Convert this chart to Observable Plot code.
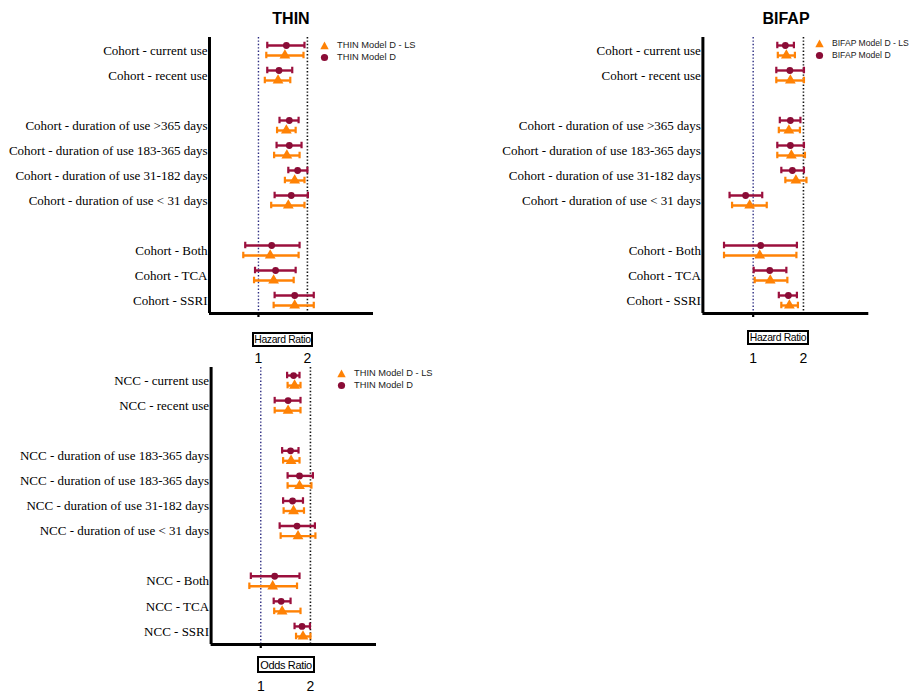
<!DOCTYPE html>
<html><head><meta charset="utf-8">
<script src="https://cdn.jsdelivr.net/npm/d3@7"></script>
<script src="https://cdn.jsdelivr.net/npm/@observablehq/plot@0.6"></script>
<style>
body{margin:0;background:#fff;}
#root{position:relative;width:912px;height:693px;overflow:hidden;background:#fff;}
.abs{position:absolute;}
.title{font-family:"Liberation Sans",Arial,sans-serif;font-weight:bold;font-size:16px;color:#000;transform:translateX(-50%);white-space:nowrap;}
.box{font-family:"Liberation Sans",Arial,sans-serif;font-size:10.4px;letter-spacing:-0.35px;border:2px solid #000;box-sizing:border-box;display:flex;align-items:center;justify-content:center;white-space:nowrap;background:#fff;}
.leg{font-family:"Liberation Sans",Arial,sans-serif;font-size:9.3px;color:#222;white-space:nowrap;line-height:12px;}
.leg svg{vertical-align:middle;margin-right:8px;}
</style>
</head><body><div id="root"></div>
<script>
// ---------- data ----------
const cohortLabels = ["Cohort - current use","Cohort - recent use","","Cohort - duration of use >365 days","Cohort - duration of use 183-365 days","Cohort - duration of use 31-182 days","Cohort - duration of use < 31 days","","Cohort - Both","Cohort - TCA","Cohort - SSRI"];
const nccLabels = ["NCC - current use","NCC - recent use","","NCC - duration of use 183-365 days","NCC - duration of use 183-365 days","NCC - duration of use 31-182 days","NCC - duration of use < 31 days","","NCC - Both","NCC - TCA","NCC - SSRI"];
const xTicks = [1, 2];

// THIN cohort (hazard ratio)
const thinD_est  = [1.57,1.42,null,1.63,1.63,1.80,1.67,null,1.27,1.35,1.74];
const thinD_lo   = [1.18,1.18,null,1.43,1.37,1.61,1.33,null,0.73,0.93,1.33];
const thinD_hi   = [1.94,1.69,null,1.82,1.88,2.00,2.01,null,1.84,1.76,2.13];
const thinLS_est = [1.54,1.40,null,1.57,1.58,1.74,1.61,null,1.24,1.31,1.74];
const thinLS_lo  = [1.16,1.13,null,1.38,1.32,1.54,1.26,null,0.69,0.91,1.31];
const thinLS_hi  = [1.92,1.65,null,1.76,1.84,1.94,1.94,null,1.82,1.72,2.13];

// BIFAP cohort (hazard ratio)
const bifapD_est  = [1.64,1.73,null,1.74,1.74,1.78,0.85,null,1.15,1.33,1.70];
const bifapD_lo   = [1.48,1.46,null,1.53,1.48,1.56,0.53,null,0.42,1.01,1.51];
const bifapD_hi   = [1.81,2.01,null,1.94,2.01,2.01,1.18,null,1.87,1.66,1.87];
const bifapLS_est = [1.66,1.74,null,1.71,1.76,1.85,0.93,null,1.13,1.34,1.72];
const bifapLS_lo  = [1.49,1.46,null,1.51,1.48,1.64,0.58,null,0.42,1.03,1.56];
const bifapLS_hi  = [1.83,2.01,null,1.93,2.03,2.06,1.27,null,1.86,1.68,1.89];

// THIN nested case-control (odds ratio)
const nccD_est  = [1.66,1.55,null,1.60,1.78,1.64,1.73,null,1.28,1.41,1.83];
const nccD_lo   = [1.53,1.28,null,1.43,1.54,1.45,1.38,null,0.80,1.26,1.68];
const nccD_hi   = [1.78,1.80,null,1.76,2.05,1.85,2.09,null,1.78,1.60,1.99];
const nccLS_est = [1.68,1.55,null,1.61,1.78,1.66,1.75,null,1.24,1.43,1.85];
const nccLS_lo  = [1.54,1.28,null,1.45,1.54,1.46,1.40,null,0.77,1.27,1.71];
const nccLS_hi  = [1.80,1.80,null,1.78,2.02,1.87,2.10,null,1.73,1.80,2.00];

// ---------- styling ----------
const MAROON = "#9b0f3d";
const ORANGE = "#ff8205";
const root = document.getElementById("root");

function rows(est, lo, hi, offset) {
  return est.map((e, i) => ({i, y: i + offset, est: e, lo: lo[i], hi: hi[i]})).filter(d => d.est != null);
}

function panel(o) {
  const yMin = -0.52, yMax = 10.52;
  const dD = rows(o.dEst, o.dLo, o.dHi, -0.2);
  const dLS = rows(o.lsEst, o.lsLo, o.lsHi, 0.2);
  const caps = [...dD.map(d => ({...d, c: MAROON})), ...dLS.map(d => ({...d, c: ORANGE}))];
  const capPts = caps.flatMap(d => [{x: d.lo, y: d.y, c: d.c}, {x: d.hi, y: d.y, c: d.c}]);
  const labelIdx = o.labels.map((l, i) => l ? i : null).filter(i => i != null);
  const svg = Plot.plot({
    width: o.width, height: o.height,
    marginLeft: o.ml, marginRight: o.mr, marginTop: o.mt, marginBottom: o.mb,
    style: {fontFamily: "Liberation Serif, serif", fontSize: "13px", background: "transparent", overflow: "visible"},
    x: {domain: [0, o.xMax]},
    y: {domain: [yMin, yMax], reverse: true},
    marks: [
      Plot.ruleX([1], {stroke: "#2b2b80", strokeWidth: 1.4, strokeDasharray: "1.4,2"}),
      Plot.ruleX([2], {stroke: "#111", strokeWidth: 1.6, strokeDasharray: "1.4,2"}),
      Plot.ruleY(dD, {x1: "lo", x2: "hi", y: "y", stroke: MAROON, strokeWidth: 2.4}),
      Plot.ruleY(dLS, {x1: "lo", x2: "hi", y: "y", stroke: ORANGE, strokeWidth: 2.4}),
      Plot.ruleX(capPts, {x: "x", y1: d => d.y - 0.13, y2: d => d.y + 0.13, stroke: "c", strokeWidth: 2.2}),
      Plot.dot(dLS, {x: "est", y: "y", symbol: "triangle", r: 4, fill: ORANGE, stroke: "none"}),
      Plot.dot(dD, {x: "est", y: "y", symbol: "circle", r: 3.4, fill: "#8a0c36", stroke: "none"}),
      Plot.ruleX([0], {stroke: "#000", strokeWidth: 3}),
      Plot.ruleY([yMax], {stroke: "#000", strokeWidth: 3}),
      Plot.axisY({ticks: labelIdx, tickFormat: i => o.labels[i], tickSize: 0, tickPadding: 2, label: null, fill: "#000", fontSize: 13, fontFamily: "Liberation Serif, serif"}),
      Plot.axisX({ticks: [1], tickSize: 4, tickFormat: () => "", label: null, strokeWidth: 2.2, stroke: "#000"}),
      Plot.axisX({ticks: xTicks, tickSize: 0, tickPadding: o.tp, label: null, tickFormat: d3.format("d"), fontSize: 14, fontFamily: "Liberation Sans, Arial, sans-serif", fill: "#000"})
    ]
  });
  const wrap = document.createElement("div");
  wrap.className = "abs";
  wrap.style.left = o.left + "px";
  wrap.style.top = o.top + "px";
  wrap.appendChild(svg);
  root.appendChild(wrap);
}

function addDiv(cls, html, css) {
  const d = document.createElement("div");
  d.className = "abs " + cls;
  d.innerHTML = html;
  Object.assign(d.style, css);
  root.appendChild(d);
  return d;
}
const triSvg = `<svg width="9" height="9"><path d="M4.5,0.5 L8.7,8.3 L0.3,8.3Z" fill="${ORANGE}"/></svg>`;
const cirSvg = `<svg width="9" height="9"><circle cx="4.5" cy="4.5" r="3.6" fill="#8a0c36"/></svg>`;
function legend(name, left, top, fs) {
  addDiv("leg", `${triSvg}${name} Model D - LS`, {left: left + "px", top: top + "px", fontSize: fs + "px"});
  addDiv("leg", `${cirSvg}${name} Model D`, {left: left + "px", top: (top + 12) + "px", fontSize: fs + "px"});
}

// Panel 1: THIN cohort
panel({labels: cohortLabels, dEst: thinD_est, dLo: thinD_lo, dHi: thinD_hi, lsEst: thinLS_est, lsLo: thinLS_lo, lsHi: thinLS_hi,
  left: 0, top: 0, width: 380, height: 370, ml: 209, mr: 7, mt: 37, mb: 57, xMax: 3.35, tp: 40});
// Panel 2: BIFAP cohort
panel({labels: cohortLabels, dEst: bifapD_est, dLo: bifapD_lo, dHi: bifapD_hi, lsEst: bifapLS_est, lsLo: bifapLS_lo, lsHi: bifapLS_hi,
  left: 490, top: 0, width: 380, height: 370, ml: 212.4, mr: 1.7, mt: 37, mb: 57, xMax: 3.3, tp: 40});
// Panel 3: THIN NCC
panel({labels: nccLabels, dEst: nccD_est, dLo: nccD_lo, dHi: nccD_hi, lsEst: nccLS_est, lsLo: nccLS_lo, lsHi: nccLS_hi,
  left: 0, top: 340, width: 380, height: 360, ml: 210.6, mr: 4, mt: 27, mb: 56, xMax: 3.33, tp: 37});

addDiv("title", "THIN", {left: "291px", top: "10px"});
addDiv("title", "BIFAP", {left: "786px", top: "10px"});
addDiv("box", "Hazard Ratio", {left: "252px", top: "332px", width: "61px", height: "15px"});
addDiv("box", "Hazard Ratio", {left: "747px", top: "330px", width: "62px", height: "15px"});
addDiv("box", "Odds Ratio", {left: "257px", top: "656px", width: "58px", height: "17px", fontSize: "11px"});
legend("THIN", 320, 39, 9.3);
legend("BIFAP", 815, 37, 8.6);
legend("THIN", 337, 367, 9.3);
</script></body></html>
